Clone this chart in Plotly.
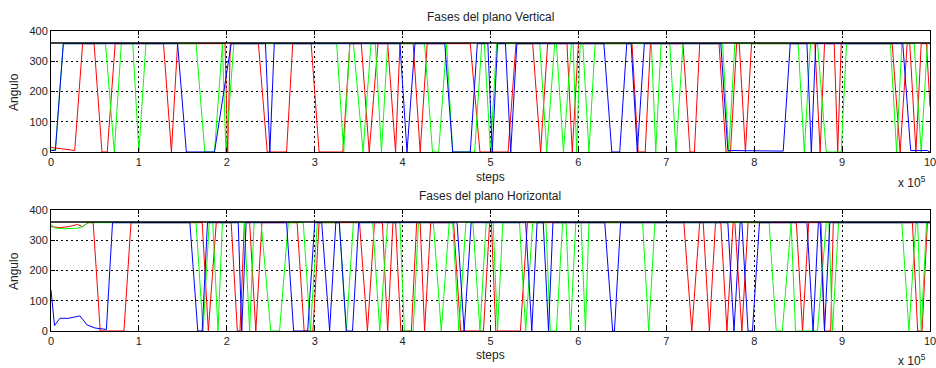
import plotly.graph_objects as go

# x values are in units of 10^5 steps
REF_LEVEL = 360
x_ticks = [0, 1, 2, 3, 4, 5, 6, 7, 8, 9, 10]
x_tick_labels = ["0", "1", "2", "3", "4", "5", "6", "7", "8", "9", "10"]
y_ticks = [0, 100, 200, 300, 400]

# ---------------- Fases del plano Vertical ----------------
v_red_x = [0, 0.22, 0.27, 0.36, 0.49, 0.58, 0.64, 0.73, 1.28, 1.37, 1.44, 1.98, 2.01, 2.04,
           2.36, 2.46, 2.68, 2.75, 2.96, 3.05, 3.32, 3.4, 3.53, 3.62, 3.72, 3.83, 3.92, 3.97,
           4.12, 4.2, 4.28, 4.77, 4.88, 5.2, 5.29, 5.48, 5.57, 5.65, 5.87, 5.93, 6.0,
           6.61, 6.68, 6.76, 6.82, 7.19, 7.27, 7.32, 7.38, 7.6, 7.68, 7.73, 7.8, 7.83, 7.9, 7.97,
           8.69, 8.75, 8.8, 8.91, 8.95, 8.99, 9.57, 9.66, 9.74, 9.77, 9.84, 9.9, 9.96, 10]
v_red_y = [15, 6, 5, 358, 358, 0, 0, 358, 358, 0, 358, 358, 0, 358,
           358, 0, 0, 358, 358, 0, 0, 358, 358, 0, 358, 358, 0, 358,
           358, 0, 358, 358, 0, 0, 358, 358, 0, 358, 358, 0, 358,
           358, 0, 0, 358, 358, 0, 0, 358, 358, 0, 0, 358, 358, 0, 358,
           358, 0, 358, 358, 0, 358, 358, 0, 358, 358, 0, 358, 358, 150]

v_green_x = [0, 0.05, 0.14, 0.62, 0.72, 0.8, 0.93, 1.0, 1.08, 1.65, 1.75, 1.86, 1.95, 1.99, 2.08,
             3.25, 3.33, 3.4, 3.44, 3.55, 3.64, 3.69, 3.76, 3.83, 4.25, 4.34, 4.41, 4.5,
             4.57, 4.82, 4.9, 4.93, 5.0, 5.07, 5.56, 5.64, 5.73, 5.75, 5.83, 5.92,
             5.94, 5.98, 6.02, 6.05, 6.12, 6.19, 6.83, 6.88, 6.94, 7.04, 7.11, 7.19,
             7.64, 7.71, 7.78, 8.5, 8.57, 8.64, 8.72, 8.82, 8.99, 9.05,
             9.55, 9.62, 9.68, 9.82, 9.9, 9.97, 10]
v_green_y = [5, 10, 358, 358, 0, 358, 358, 0, 358, 358, 0, 0, 358, 0, 358,
             358, 0, 358, 358, 0, 358, 358, 0, 358, 358, 0, 0, 358,
             0, 0, 358, 358, 0, 358, 358, 0, 358, 358, 0, 358,
             358, 0, 358, 358, 0, 358, 358, 0, 358, 358, 0, 358,
             358, 0, 358, 358, 0, 358, 358, 0, 0, 358,
             358, 0, 358, 358, 0, 358, 358]

v_blue_x = [0, 0.05, 0.14, 1.44, 1.54, 1.86, 2.05, 2.44, 2.49, 2.54, 3.97, 4.05, 4.14,
            4.48, 4.57, 4.77, 4.85, 4.97, 5.02, 5.08, 5.17, 5.23, 5.3,
            6.29, 6.38, 6.47, 6.55, 6.6, 6.67, 6.75, 7.62, 7.7, 8.33, 8.41,
            8.6, 8.65, 8.7, 9.69, 9.78, 9.97, 10]
v_blue_y = [5, 5, 358, 358, 0, 0, 358, 358, 0, 358, 358, 0, 358,
            358, 0, 0, 358, 358, 0, 358, 358, 0, 358,
            358, 0, 0, 358, 358, 0, 358, 358, 5, 3, 358,
            358, 0, 358, 358, 5, 5, 0]

# ---------------- Fases del plano Horizontal ----------------
h_red_x = [0, 0.1, 0.2, 0.3, 0.36, 0.42, 0.48, 0.56, 0.83, 0.91, 1.72, 1.79, 1.88,
           2.05, 2.12, 2.15, 2.2, 2.26, 2.33, 2.4, 2.8, 2.88, 2.98, 3.05,
           3.51, 3.6, 3.68, 3.77, 3.83, 3.89, 3.92, 3.98, 4.1, 4.16, 4.2, 4.25, 4.32,
           4.58, 4.66, 4.92, 4.99, 5.01, 5.06, 5.34, 5.42,
           7.2, 7.29, 7.38, 7.42, 7.49, 7.56, 7.62, 7.69, 7.76, 7.78, 7.86, 7.93,
           8.48, 8.55, 8.62, 8.76, 8.8, 8.87, 8.9, 9.8, 9.86, 9.91, 9.97, 10]
h_red_y = [345, 342, 345, 352, 345, 358, 358, 0, 0, 358, 358, 0, 358,
           358, 0, 0, 358, 358, 0, 358, 358, 0, 0, 358,
           358, 0, 358, 358, 0, 358, 358, 0, 0, 358, 358, 0, 358,
           358, 0, 0, 358, 358, 0, 0, 358,
           358, 0, 358, 358, 0, 358, 358, 0, 358, 358, 0, 358,
           358, 0, 358, 358, 0, 0, 358, 358, 0, 0, 358, 358]

h_green_x = [0, 0.05, 0.15, 0.3, 0.36, 0.42, 1.65, 1.73, 1.8, 1.84, 1.9, 1.95,
             2.2, 2.26, 2.31, 2.39, 2.5, 2.6, 2.7, 2.87, 2.95, 3.03,
             3.28, 3.36, 3.44, 3.66, 3.74, 3.83, 3.97, 4.02, 4.12, 4.18,
             4.35, 4.44, 4.53, 4.57, 4.64, 4.72, 4.8, 4.88, 4.95, 5.03, 5.08, 5.14,
             5.33, 5.4, 5.48, 5.63, 5.68, 5.75, 5.82, 5.86, 5.91, 5.97, 6.03, 6.08, 6.12,
             6.73, 6.8, 6.87, 8.17, 8.25, 8.32, 8.42, 8.47, 8.72, 8.82, 8.85, 8.89, 8.96,
             9.68, 9.76, 9.84, 9.86, 9.9, 9.96, 10]
h_green_y = [352, 340, 338, 340, 345, 358, 358, 0, 358, 358, 0, 358,
             358, 0, 358, 358, 0, 0, 358, 358, 0, 358,
             358, 0, 358, 358, 0, 358, 358, 0, 0, 358,
             358, 0, 358, 358, 0, 358, 358, 0, 358, 358, 0, 358,
             358, 0, 358, 358, 0, 0, 358, 358, 0, 358, 358, 0, 358,
             358, 0, 358, 358, 0, 0, 358, 0, 0, 358, 358, 0, 358,
             358, 0, 358, 358, 0, 358, 358]

h_blue_x = [0, 0.04, 0.1, 0.2, 0.33, 0.41, 0.5, 0.6, 0.63, 0.7, 1.58, 1.67, 1.72, 1.78,
            2.13, 2.17, 2.22, 2.68, 2.76, 2.92, 3.0, 3.08, 3.17, 3.24, 3.28, 3.36, 3.43, 3.5,
            4.62, 4.7, 4.78, 5.4, 5.47, 5.53, 5.6, 5.66, 5.71, 6.3, 6.39, 6.41, 6.48,
            7.7, 7.77, 7.84, 7.86, 7.93, 7.98, 8.06, 8.6, 8.67, 8.73, 8.75, 8.8, 8.86, 10]
h_blue_y = [135, 18, 42, 42, 50, 20, 10, 5, 5, 358, 358, 0, 0, 358,
            358, 0, 358, 358, 0, 0, 358, 358, 0, 358, 358, 0, 0, 358,
            358, 0, 358, 358, 0, 358, 358, 0, 358, 358, 0, 0, 358,
            358, 0, 358, 358, 0, 0, 358, 358, 0, 358, 358, 0, 358, 358]

FONT = "Liberation Sans, Arial, sans-serif"
W, H = 936, 368
ML, MR = 51, 6
fig = go.Figure()


def add_line(x, y, color, xa, ya, width=1):
    fig.add_trace(go.Scatter(x=x, y=y, mode="lines", xaxis=xa, yaxis=ya,
                             line=dict(color=color, width=width),
                             showlegend=False, hoverinfo="skip"))


add_line(v_red_x, v_red_y, "#ff0000", "x", "y")
add_line(v_green_x, v_green_y, "#00ff00", "x", "y")
add_line(v_blue_x, v_blue_y, "#0000ff", "x", "y")
add_line([0, 10], [REF_LEVEL, REF_LEVEL], "#000000", "x", "y", 1.5)

add_line(h_red_x, h_red_y, "#ff0000", "x2", "y2")
add_line(h_green_x, h_green_y, "#00ff00", "x2", "y2")
add_line(h_blue_x, h_blue_y, "#0000ff", "x2", "y2")
add_line([0, 10], [REF_LEVEL, REF_LEVEL], "#000000", "x2", "y2", 1.5)

axis_common = dict(showline=True, linecolor="black", linewidth=1, mirror="allticks",
                   ticks="inside", ticklen=4, tickcolor="black", automargin=False,
                   ticklabeloverflow="allow",
                   showgrid=True, gridcolor="black", gridwidth=1, griddash="2px,3px",
                   zeroline=False, tickfont=dict(family=FONT, size=11, color="#222"))

fig.update_layout(
    width=W, height=H,
    margin=dict(l=ML, r=MR, t=0, b=0, autoexpand=False),
    paper_bgcolor="white", plot_bgcolor="white",
    xaxis=dict(domain=[0, 1], range=[0, 10], tickvals=x_ticks, ticktext=x_tick_labels,
               anchor="y", **axis_common),
    yaxis=dict(domain=[1 - 152 / H, 1 - 31 / H], range=[0, 400], tickvals=y_ticks,
               anchor="x", **axis_common),
    xaxis2=dict(domain=[0, 1], range=[0, 10], tickvals=x_ticks, ticktext=x_tick_labels,
                anchor="y2", **axis_common),
    yaxis2=dict(domain=[1 - 331 / H, 1 - 210 / H], range=[0, 400], tickvals=y_ticks,
                anchor="x2", **axis_common),
)

txt = dict(family=FONT, size=12, color="#222")


def px_x(p):
    return (p - ML) / (W - ML - MR)


ann = [
    dict(text="Fases del plano Vertical", x=490, y=17, xa="center"),
    dict(text="Fases del plano Horizontal", x=490, y=196, xa="center"),
    dict(text="steps", x=490, y=177, xa="center"),
    dict(text="steps", x=490, y=355, xa="center"),
    dict(text="x 10<sup>5</sup>", x=928, y=182, xa="right"),
    dict(text="x 10<sup>5</sup>", x=928, y=360, xa="right"),
]
for a in ann:
    fig.add_annotation(text=a["text"], xref="paper", yref="paper",
                       x=px_x(a["x"]), y=1 - a["y"] / H,
                       showarrow=False, font=txt, xanchor=a["xa"], yanchor="middle")
for yy in (92, 271):
    fig.add_annotation(text="Angulo", xref="paper", yref="paper",
                       x=px_x(14), y=1 - yy / H, textangle=-90,
                       showarrow=False, font=txt, xanchor="center", yanchor="middle")

fig.write_html("out.html", config={"displayModeBar": False},
               post_script="document.body.style.margin='0px';document.body.style.overflow='hidden';")
